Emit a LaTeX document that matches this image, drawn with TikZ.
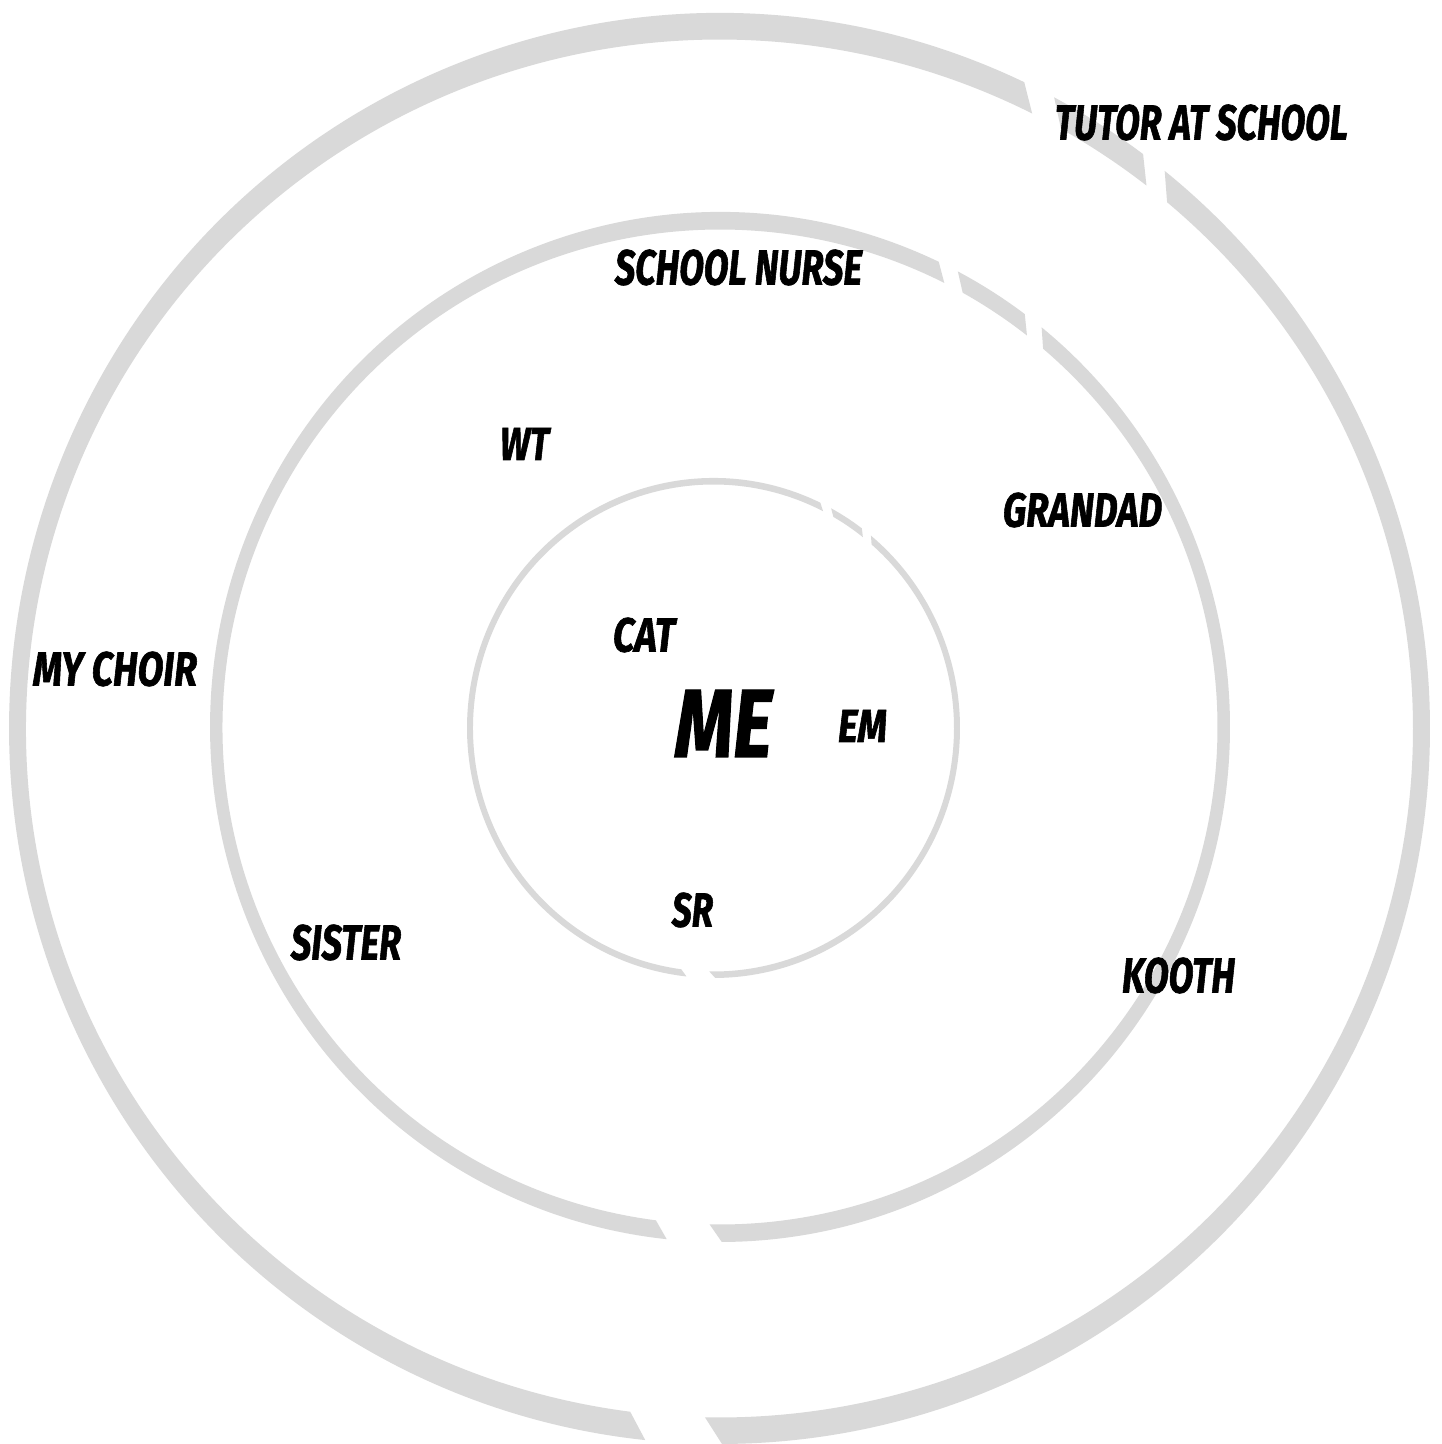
\documentclass[tikz,border=0pt]{standalone}
\usepackage{fontspec}
\usepackage{graphicx}
\newfontfamily\lblfont{Fira Sans}[BoldItalicFeatures={FakeBold=1.5}]
\definecolor{ringgray}{RGB}{217,217,217}
\tikzset{
  lbl/.style={inner sep=0pt, anchor=center, font=\lblfont\bfseries\itshape, text=black},
  ring/.style={fill=ringgray, draw=none}
}
\newcommand\lab[3]{\resizebox{#1pt}{#2pt}{#3}}
% brush segment: center x, center y, outer rx, outer ry, inner rx, inner ry, start angle, end angle
% the outer edge is turned 1.4 degrees against the inner edge, giving slanted brush ends
\newcommand\rseg[8]{\fill[ring, shift={(#1pt,#2pt)}] ({#7+1.4}:#3pt and #4pt) arc[start angle={#7+1.4}, end angle={#8+1.4}, x radius=#3pt, y radius=#4pt] -- (#8:#5pt and #6pt) arc[start angle=#8, end angle=#7, x radius=#5pt, y radius=#6pt] -- cycle;}
\begin{document}
\begin{tikzpicture}[x=1pt,y=1pt]
\useasboundingbox (0,0) rectangle (1442,1444);
\fill[white] (0,0) rectangle (1442,1444);
% outer ring
\rseg{719.5}{715.5}{710.5}{715.5}{693.5}{689}{-91.2}{49.8}
\rseg{719.5}{715.5}{710.5}{715.5}{693.5}{689}{52}{60.5}
\rseg{719.5}{715.5}{710.5}{715.5}{693.5}{689}{63.2}{262.6}
% middle ring
\rseg{720}{717}{510}{515}{497.5}{497.5}{-91.2}{49.5}
\rseg{720}{717}{510}{515}{497.5}{497.5}{51.9}{60.8}
\rseg{720}{717}{510}{515}{497.5}{497.5}{63.2}{262.6}
% inner ring
\rseg{713.5}{716}{246.5}{250}{240.5}{243.5}{-91}{48.9}
\rseg{713.5}{716}{246.5}{250}{240.5}{243.5}{51.6}{60.1}
\rseg{713.5}{716}{246.5}{250}{240.5}{243.5}{62.9}{262.3}
% labels (image y converted: Y = 1444 - y)
\node[lbl] (tutor)  at (1201.5,1321.5) {\lab{293}{35}{TUTOR AT SCHOOL}};
\node[lbl] (nurse)  at (738.5,1176.5)  {\lab{247}{35}{SCHOOL NURSE}};
\node[lbl] (wt)     at (524.5,1000)    {\lab{49}{32}{WT}};
\node[lbl] (grand)  at (1082.5,934)    {\lab{159}{34}{GRANDAD}};
\node[lbl] (choir)  at (115,775)       {\lab{164}{34}{MY CHOIR}};
\node[lbl] (cat)    at (644,809)       {\lab{62}{34}{CAT}};
\node[lbl] (me)     at (723.5,720.5)   {\lab{97}{67}{ME}};
\node[lbl] (em)     at (862.5,718)     {\lab{49}{32}{EM}};
\node[lbl] (sr)     at (692.5,534)     {\lab{41}{34}{SR}};
\node[lbl] (sister) at (346,501.5)     {\lab{110}{35}{SISTER}};
\node[lbl] (kooth)  at (1178.5,468.5)  {\lab{113}{35}{KOOTH}};
\end{tikzpicture}
\end{document}
